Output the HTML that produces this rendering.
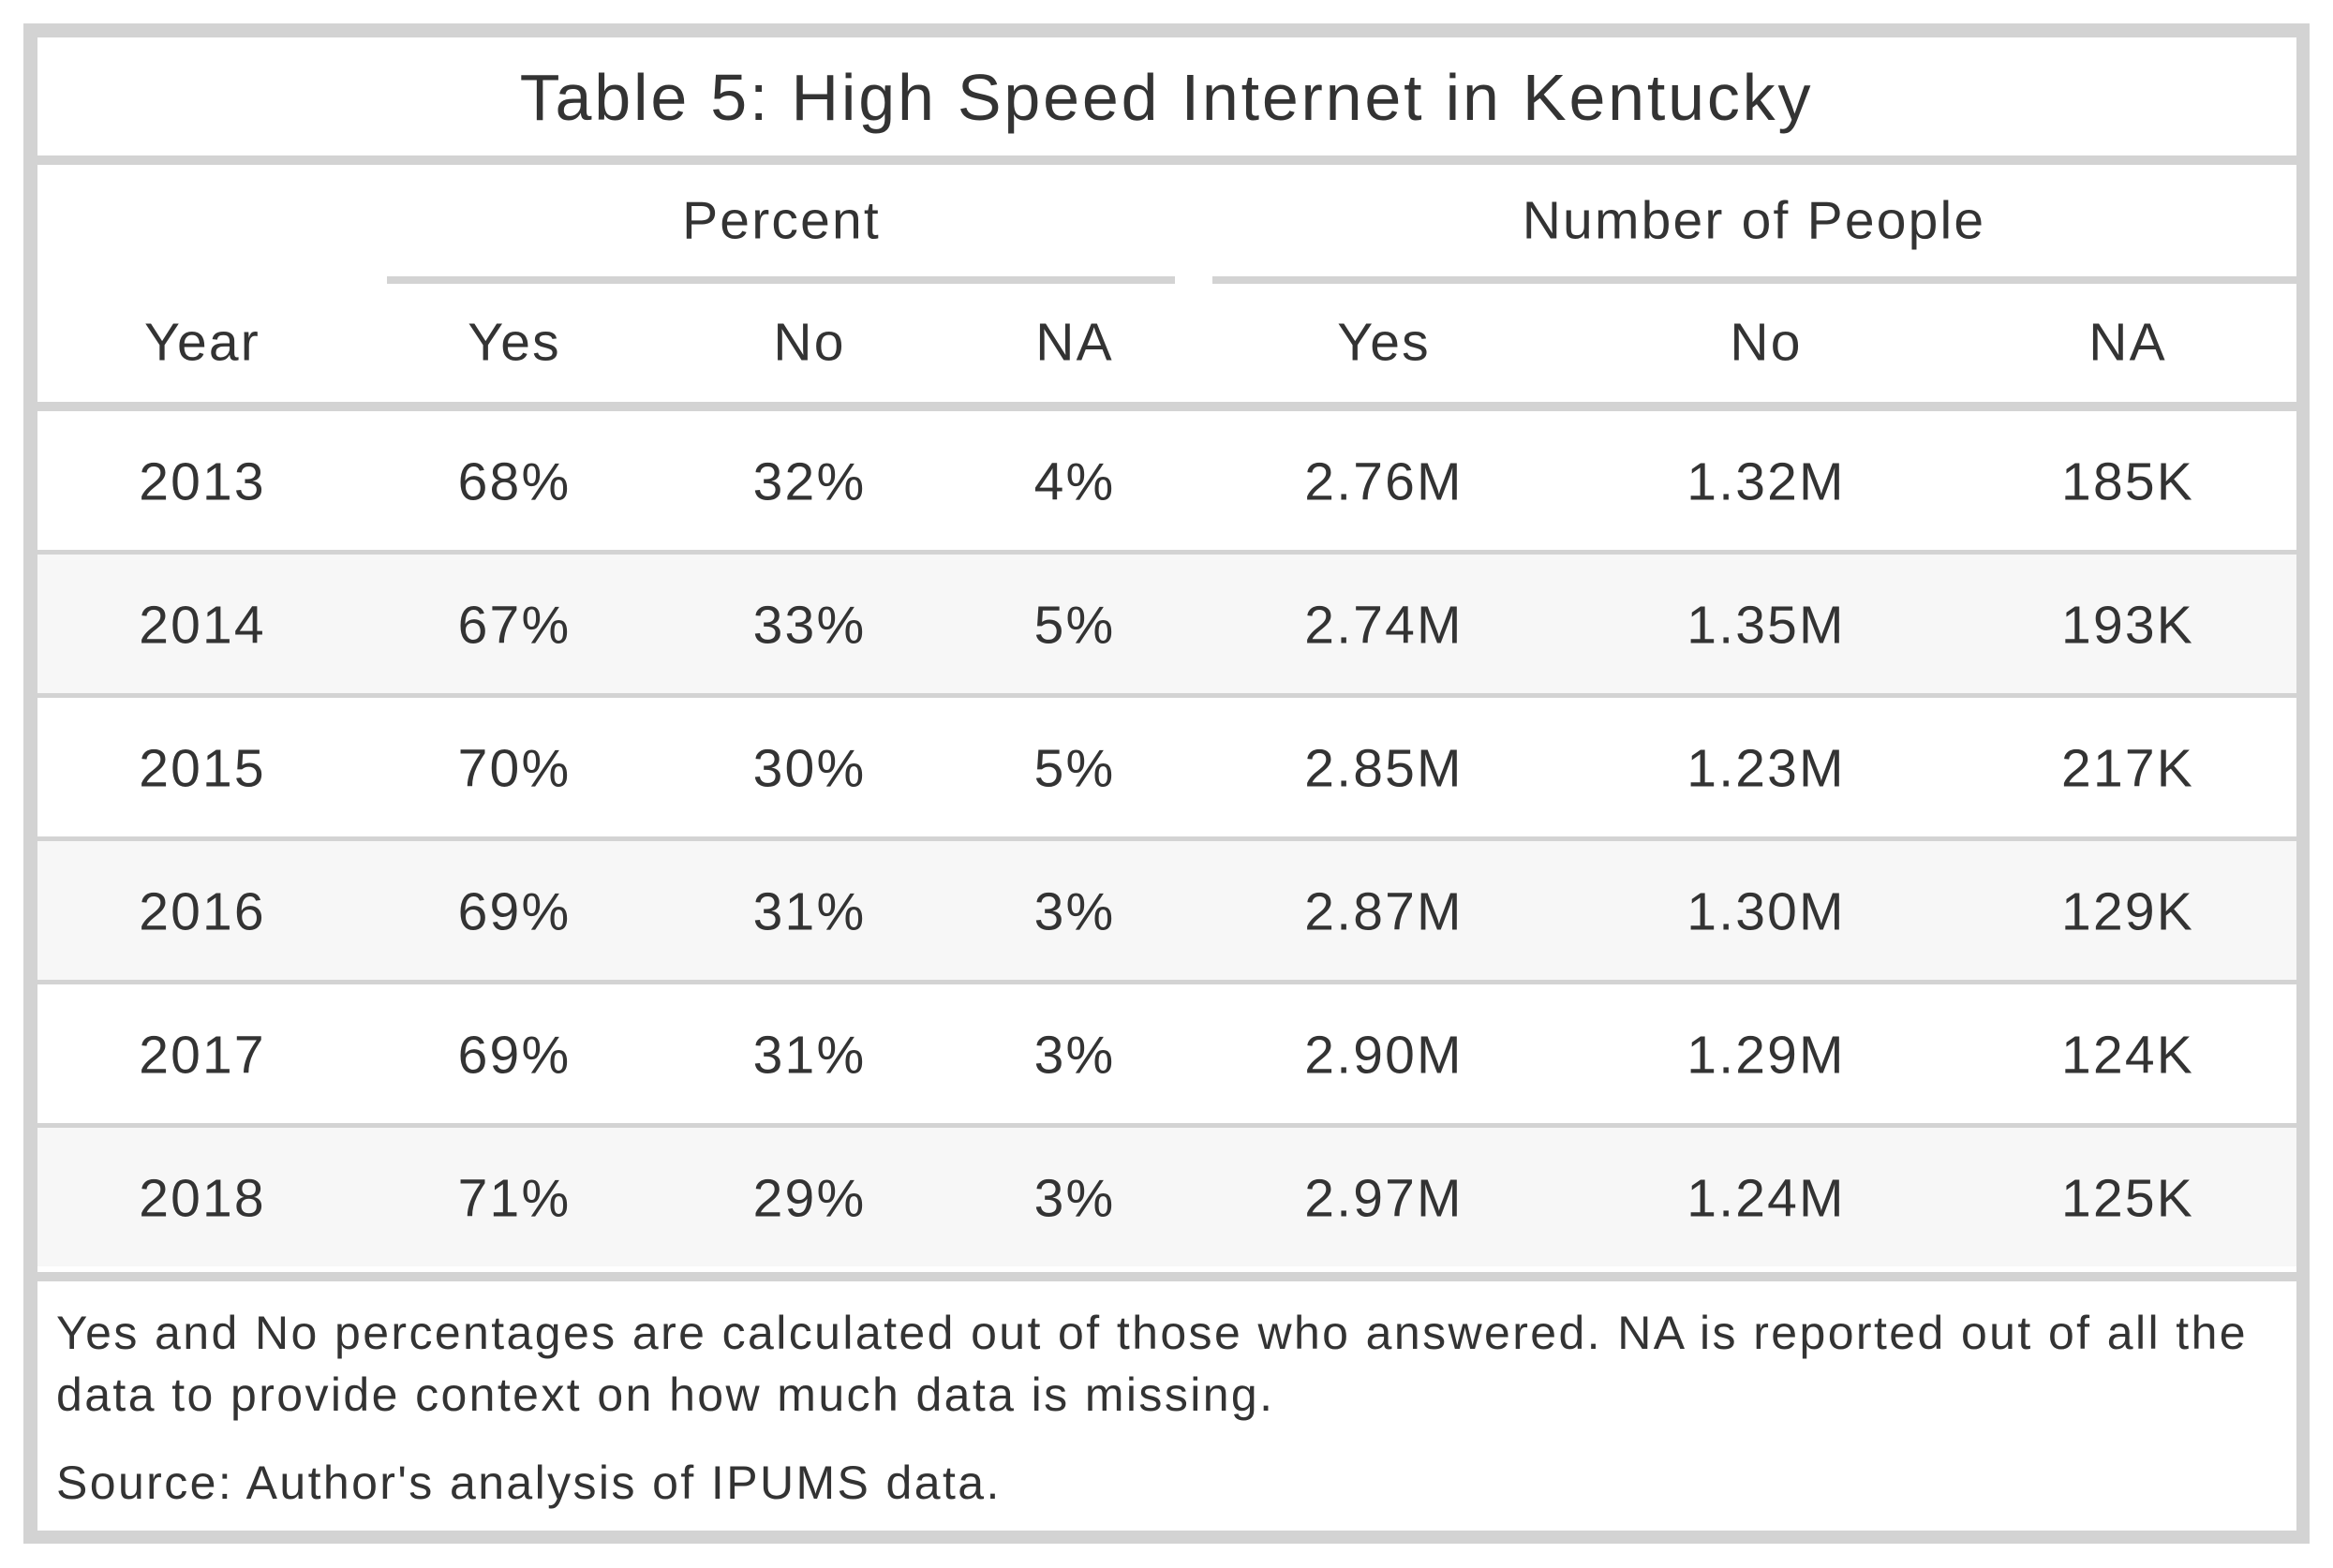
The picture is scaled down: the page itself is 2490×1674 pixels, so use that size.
<!DOCTYPE html>
<html><head><meta charset="utf-8"><style>
html,body{margin:0;padding:0;background:#fff;}
body{width:2490px;height:1674px;position:relative;overflow:hidden;font-family:"Liberation Sans",sans-serif;color:#333;}
.abs{position:absolute;}
.bar{position:absolute;background:#d3d3d3;}
.t{position:absolute;transform:translate(-50%,-50%);white-space:nowrap;line-height:1;letter-spacing:2.2px;}
</style></head><body>
<div class="bar" style="left:25px;top:25px;width:2440px;height:1623px;"></div>
<div class="abs" style="left:40px;top:40px;width:2411px;height:1594px;background:#fff;"></div>
<div class="t" style="left:1245px;top:104px;font-size:70px;letter-spacing:2.8px;">Table 5: High Speed Internet in Kentucky</div>
<div class="bar" style="left:40px;top:166px;width:2411px;height:10px;"></div>
<div class="t" style="left:834px;top:236px;font-size:57px;">Percent</div>
<div class="t" style="left:1872px;top:236px;font-size:57px;">Number of People</div>
<div class="bar" style="left:413px;top:295px;width:841px;height:8px;"></div>
<div class="bar" style="left:1294px;top:295px;width:1157px;height:8px;"></div>
<div class="bar" style="left:40px;top:429px;width:2411px;height:10px;"></div>
<div class="bar" style="left:40px;top:1358px;width:2411px;height:10px;"></div>
<div class="abs" style="left:60px;top:1390px;font-size:50px;letter-spacing:2.4px;line-height:66px;width:2390px;white-space:nowrap;">Yes and No percentages are calculated out of those who answered. NA is reported out of all the<br>data to provide context on how much data is missing.</div>
<div class="abs" style="left:60px;top:1558px;font-size:50px;letter-spacing:2.4px;line-height:50px;">Source: Author's analysis of IPUMS data.</div>
<script>
const headers = ["Year","Yes","No","NA","Yes","No","NA"];
const years = ["2013","2014","2015","2016","2017","2018"];
const pctYes = ["68%","67%","70%","69%","69%","71%"];
const pctNo = ["32%","33%","30%","31%","31%","29%"];
const pctNA = ["4%","5%","5%","3%","3%","3%"];
const numYes = ["2.76M","2.74M","2.85M","2.87M","2.90M","2.97M"];
const numNo = ["1.32M","1.35M","1.23M","1.30M","1.29M","1.24M"];
const numNA = ["185K","193K","217K","129K","124K","125K"];
const colX = [216,549,864,1147,1477,1885,2271];
const colNames = ["year","pct-yes","pct-no","pct-na","num-yes","num-no","num-na"];
const root = document.body;
headers.forEach((h,i)=>{
  const d=document.createElement('div');
  d.className='t';
  
  
  d.style.left=colX[i]+'px';d.style.top='366px';d.style.fontSize='57px';
  d.textContent=h;root.appendChild(d);
});
const cols=[years,pctYes,pctNo,pctNA,numYes,numNo,numNA];
years.forEach((y,r)=>{
  const top=439+r*153;
  const bg=document.createElement('div');
  bg.className='abs';
  
  
  bg.style.cssText='left:40px;top:'+top+'px;width:2411px;height:148px;background:'+(r%2?'#f7f7f7':'#fff')+';';
  root.insertBefore(bg, root.firstChild.nextSibling.nextSibling.nextSibling.nextSibling);
  if(r<years.length-1){
    const s=document.createElement('div');
    s.className='bar';
    
    
    s.style.cssText='left:40px;top:'+(top+148)+'px;width:2411px;height:5px;';
    root.appendChild(s);
  }
  cols.forEach((c,i)=>{
    const d=document.createElement('div');
    d.className='t';
    
    
    d.style.left=colX[i]+'px';d.style.top=(top+76)+'px';d.style.fontSize='57px';
    d.textContent=c[r];root.appendChild(d);
  });
});
</script>
</body></html>
